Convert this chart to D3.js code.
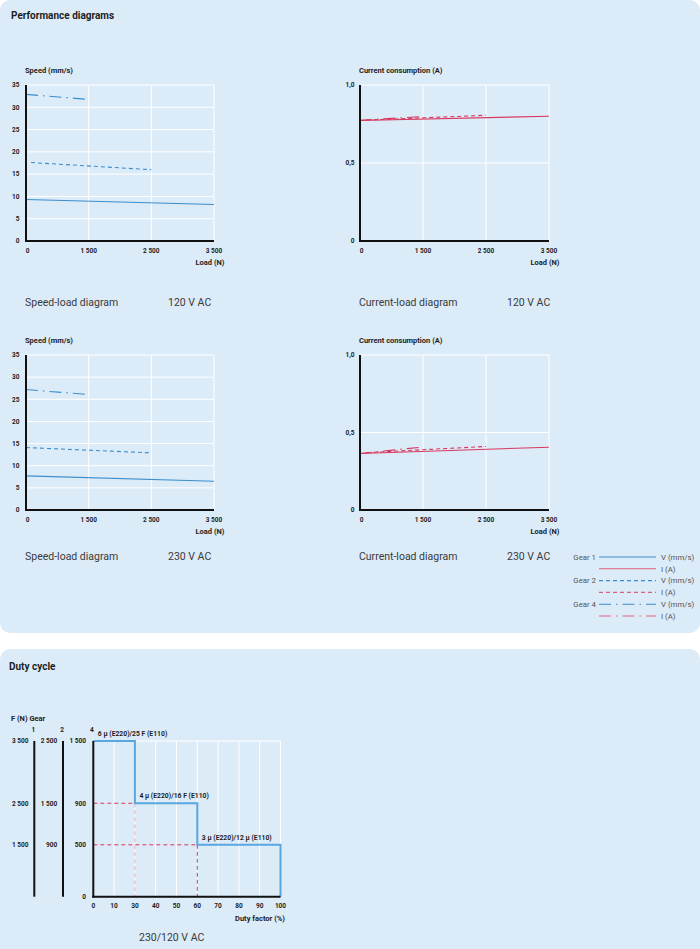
<!DOCTYPE html>
<html>
<head>
<meta charset="utf-8">
<script src="https://cdn.jsdelivr.net/npm/d3@7"></script>
<style>
	body { margin: 0; background: #fff; }
	svg text { font-family: Roboto, "Noto Sans", sans-serif; }
</style>
</head>
<body>
<svg id="chart" width="700" height="949"></svg>
<script>
// ---- data ----
var loadTicks = [0, 1500, 2500, 3500];
var speedTicks = [0, 5, 10, 15, 20, 25, 30, 35];
var currentTicks = [0, 0.5, 1.0];
var gearNames = ["Gear 1", "Gear 2", "Gear 4"];

// each series: [load, value] start and end
var speed120_gear1 = [[0, 9.3], [3500, 8.2]];
var speed120_gear2 = [[120, 17.6], [2500, 16.0]];
var speed120_gear4 = [[0, 32.9], [1450, 31.8]];

var speed230_gear1 = [[0, 7.7], [3500, 6.5]];
var speed230_gear2 = [[0, 14.1], [2500, 12.9]];
var speed230_gear4 = [[0, 27.2], [1450, 26.1]];

var current120_gear1 = [[0, 0.772], [3500, 0.80]];
var current120_gear2 = [[150, 0.775], [2500, 0.806]];
var current120_gear4 = [[0, 0.774], [1450, 0.797]];

var current230_gear1 = [[0, 0.365], [3500, 0.405]];
var current230_gear2 = [[150, 0.37], [2500, 0.41]];
var current230_gear4 = [[0, 0.365], [1450, 0.405]];

// duty cycle (the axis in the picture has no "20" tick)
var dutyFactor = [0, 30, 60, 100];
var dutyTicks = [0, 10, 30, 40, 50, 60, 70, 80, 90, 100];
var forceGear1 = [3500, 2500, 1500];
var forceGear2 = [2500, 1500, 900];
var forceGear4 = [1500, 900, 500];
var capLabels = ["6 \u00b5 (E220)/25 F (E110)", "4 \u00b5 (E220)/16 F (E110)", "3 \u00b5 (E220)/12 \u00b5 (E110)"];

var blue = "#3b8dcc";
var red = "#d8385f";
var ink = "#1e1e1e";
var panelFill = "#dcebf8";
var dashes = [null, "4,3", "12,5,1.5,5"];

var svg = d3.select("#chart");

// panels
svg.append("rect").attr("x", 0).attr("y", 0).attr("width", 700).attr("height", 633)
	.attr("rx", 10).attr("fill", panelFill);
svg.append("rect").attr("x", 0).attr("y", 649).attr("width", 700).attr("height", 320)
	.attr("rx", 10).attr("fill", panelFill);

svg.append("text").attr("x", 11).attr("y", 19).attr("font-size", 10).attr("font-weight", "bold")
	.attr("fill", ink).text("Performance diagrams");
svg.append("text").attr("x", 9).attr("y", 669.5).attr("font-size", 10).attr("font-weight", "bold")
	.attr("fill", ink).text("Duty cycle");

function fmtThousand(d){
	// 1500 -> "1 500"
	return d3.format(",")(d).replace(/,/g, " ");
}

function drawLoadChart(opt){
	var g = svg.append("g");

	var xscale = d3.scaleLinear()
		.domain(loadTicks)
		.range(loadTicks.map(function(d, i){ return opt.x0 + i * (opt.x1 - opt.x0) / 3; }));
	var yscale = d3.scaleLinear()
		.domain([0, opt.ymax])
		.range([opt.y0, opt.y1]);

	// background grid
	g.selectAll("line.y-grid")
		.data(opt.yticks.slice(1))
		.enter().append("line")
			.attr("x1", opt.x0).attr("x2", opt.x1)
			.attr("y1", function(d){ return yscale(d); })
			.attr("y2", function(d){ return yscale(d); })
			.attr("stroke", "#fff").attr("stroke-width", 1);
	g.selectAll("line.x-grid")
		.data(loadTicks.slice(1))
		.enter().append("line")
			.attr("x1", function(d){ return xscale(d); })
			.attr("x2", function(d){ return xscale(d); })
			.attr("y1", opt.y0).attr("y2", opt.y1)
			.attr("stroke", "#fff").attr("stroke-width", 1);

	// data
	var line = d3.line()
		.x(function(d){ return xscale(d[0]); })
		.y(function(d){ return yscale(d[1]); });

	g.selectAll("path.series")
		.data(opt.series)
		.enter().append("path")
			.attr("d", line)
			.attr("fill", "none")
			.attr("stroke", opt.color)
			.attr("stroke-width", 1.1)
			.attr("stroke-dasharray", function(d, i){ return dashes[i]; });

	// axes (black frame on left and bottom)
	g.append("line").attr("x1", opt.x0).attr("x2", opt.x0).attr("y1", opt.y0 + 1).attr("y2", opt.y1)
		.attr("stroke", "#111").attr("stroke-width", 2);
	g.append("line").attr("x1", opt.x0 - 1).attr("x2", opt.x1).attr("y1", opt.y0).attr("y2", opt.y0)
		.attr("stroke", "#111").attr("stroke-width", 2);

	g.selectAll("text.y-tick")
		.data(opt.yticks)
		.enter().append("text")
			.attr("x", opt.ylabelX)
			.attr("y", function(d){ return yscale(d) + 2.3; })
			.attr("text-anchor", "end")
			.attr("font-size", 6.5).attr("font-weight", "bold").attr("fill", ink)
			.text(opt.yfmt);

	g.selectAll("text.x-tick")
		.data(loadTicks)
		.enter().append("text")
			.attr("x", function(d, i){ return xscale(d) + (i === 0 ? 1.5 : 0); })
			.attr("y", opt.y0 + 11.5)
			.attr("text-anchor", "middle")
			.attr("font-size", 6.5).attr("font-weight", "bold").attr("fill", ink)
			.text(fmtThousand);

	g.append("text").attr("x", opt.x1 + 10.5).attr("y", opt.y0 + 23.5).attr("text-anchor", "end")
		.attr("font-size", 7.5).attr("font-weight", "bold").attr("fill", ink).text("Load (N)");
	g.append("text").attr("x", opt.x0 - 1).attr("y", opt.y1 - 12.5).attr("font-size", 7.5)
		.attr("font-weight", "bold").attr("fill", ink).text(opt.title);

	g.append("text").attr("x", opt.x0 - 1).attr("y", opt.captionY).attr("font-size", 10.5)
		.attr("fill", "#3a3a3a").text(opt.caption);
	g.append("text").attr("x", opt.x0 + opt.voltDx).attr("y", opt.captionY).attr("font-size", 10.5)
		.attr("fill", "#3a3a3a").text(opt.volt);
}

var speedFmt = function(d){ return d; };
var currentFmt = function(d){ return d === 0 ? "0" : d3.format(".1f")(d).replace(".", ","); };

drawLoadChart({ x0: 26, x1: 214, y0: 241, y1: 85, ymax: 35, yticks: speedTicks, yfmt: speedFmt,
	ylabelX: 19.5, color: blue, series: [speed120_gear1, speed120_gear2, speed120_gear4],
	title: "Speed (mm/s)", caption: "Speed-load diagram", volt: "120 V AC", voltDx: 142, captionY: 305.5 });
drawLoadChart({ x0: 360, x1: 549, y0: 241, y1: 85, ymax: 1.0, yticks: currentTicks, yfmt: currentFmt,
	ylabelX: 354.5, color: red, series: [current120_gear1, current120_gear2, current120_gear4],
	title: "Current consumption (A)", caption: "Current-load diagram", volt: "120 V AC", voltDx: 147, captionY: 305.5 });
drawLoadChart({ x0: 26, x1: 214, y0: 510, y1: 355, ymax: 35, yticks: speedTicks, yfmt: speedFmt,
	ylabelX: 19.5, color: blue, series: [speed230_gear1, speed230_gear2, speed230_gear4],
	title: "Speed (mm/s)", caption: "Speed-load diagram", volt: "230 V AC", voltDx: 142, captionY: 559.5 });
drawLoadChart({ x0: 360, x1: 549, y0: 510, y1: 355, ymax: 1.0, yticks: currentTicks, yfmt: currentFmt,
	ylabelX: 354.5, color: red, series: [current230_gear1, current230_gear2, current230_gear4],
	title: "Current consumption (A)", caption: "Current-load diagram", volt: "230 V AC", voltDx: 147, captionY: 559.5 });

// legend
var legend = svg.append("g");
var legendRows = [];
gearNames.forEach(function(name, i){
	legendRows.push({ gear: name, label: "V (mm/s)", color: blue, dash: dashes[i] });
	legendRows.push({ gear: "", label: "I (A)", color: "#e0617f", dash: dashes[i] });
});
var rowY = d3.scaleLinear().domain([0, 5]).range([557, 616]);
var lg = legend.selectAll("g.row").data(legendRows).enter().append("g")
	.attr("transform", function(d, i){ return "translate(0," + rowY(i) + ")"; });
lg.append("line").attr("x1", 599).attr("x2", 656).attr("y1", 0).attr("y2", 0)
	.attr("stroke", function(d){ return d.color; }).attr("stroke-width", 1.1)
	.attr("stroke-dasharray", function(d){ return d.dash; });
lg.append("text").attr("x", 596).attr("y", 2.8).attr("text-anchor", "end").attr("font-size", 7.8)
	.attr("fill", "#555").text(function(d){ return d.gear; });
lg.append("text").attr("x", 661).attr("y", 2.8).attr("font-size", 7.8)
	.attr("fill", "#555").text(function(d){ return d.label; });

// ---- duty cycle ----
var dg = svg.append("g");
var dx = d3.scaleLinear()
	.domain(dutyTicks)
	.range(dutyTicks.map(function(d, i){ return 93.3 + i * (280.5 - 93.3) / (dutyTicks.length - 1); }));
var dy = d3.scaleLinear().domain([0, 1500]).range([896.7, 741]);

dg.selectAll("line.x-grid")
	.data(dutyTicks.slice(1))
	.enter().append("line")
		.attr("x1", function(d){ return dx(d); }).attr("x2", function(d){ return dx(d); })
		.attr("y1", dy(0)).attr("y2", dy(1500))
		.attr("stroke", "#fff").attr("stroke-width", 1);
dg.append("line").attr("x1", dx(0)).attr("x2", dx(100)).attr("y1", dy(1500)).attr("y2", dy(1500))
	.attr("stroke", "#fff").attr("stroke-width", 1);

// red dashed guides
var dline = d3.line()
	.x(function(d){ return dx(d[0]); })
	.y(function(d){ return dy(d[1]); });
for (var i = 1; i < forceGear4.length; i++){
	dg.append("path")
		.attr("d", dline([[0, forceGear4[i]], [dutyFactor[i], forceGear4[i]]]))
		.attr("fill", "none").attr("stroke", red).attr("stroke-width", 1)
		.attr("stroke-dasharray", "4,3");
	dg.append("path")
		.attr("d", dline([[dutyFactor[i], forceGear4[i]], [dutyFactor[i], 0]]))
		.attr("fill", "none").attr("stroke", i === 1 ? "#eaa9bb" : red).attr("stroke-width", 1)
		.attr("stroke-dasharray", "4,3");
}

// step line
var steps = [];
forceGear4.forEach(function(f, i){
	steps.push([dutyFactor[i], f]);
	steps.push([dutyFactor[i + 1], f]);
});
steps.push([100, 0]);
dg.append("path").attr("d", dline(steps)).attr("fill", "none")
	.attr("stroke", "#5aa6de").attr("stroke-width", 2);

dg.selectAll("text.cap")
	.data(capLabels)
	.enter().append("text")
		.attr("x", function(d, i){ return dx(dutyFactor[i]) + 4.5; })
		.attr("y", function(d, i){ return dy(forceGear4[i]) - 5; })
		.attr("font-size", 6.8).attr("font-weight", "bold").attr("fill", ink)
		.text(function(d){ return d; });

// axes
dg.append("line").attr("x1", dx(0)).attr("x2", dx(0)).attr("y1", dy(0) + 1).attr("y2", dy(1500))
	.attr("stroke", "#111").attr("stroke-width", 2);
dg.append("line").attr("x1", dx(0) - 1).attr("x2", dx(100)).attr("y1", dy(0)).attr("y2", dy(0))
	.attr("stroke", "#111").attr("stroke-width", 2);

// extra gear scales
var gearCols = [
	{ values: forceGear1, labelX: 28.5, barX: 34.3, num: "1" },
	{ values: forceGear2, labelX: 57.3, barX: 63, num: "2" },
	{ values: forceGear4, labelX: 86, barX: null, num: "4" }
];
gearCols.forEach(function(c){
	if (c.barX !== null){
		dg.append("line").attr("x1", c.barX).attr("x2", c.barX).attr("y1", dy(1500)).attr("y2", dy(0))
			.attr("stroke", "#111").attr("stroke-width", 2);
	}
	var numX = c.barX !== null ? c.barX - 1 : dx(0) - 1.5;
	dg.append("text").attr("x", numX).attr("y", 732).attr("text-anchor", "middle")
		.attr("font-size", 6.5).attr("font-weight", "bold").attr("fill", ink).text(c.num);
	dg.selectAll(null)
		.data(c.values)
		.enter().append("text")
			.attr("x", c.labelX)
			.attr("y", function(d, i){ return dy(forceGear4[i]) + 2.3; })
			.attr("text-anchor", "end")
			.attr("font-size", 6.5).attr("font-weight", "bold").attr("fill", ink)
			.text(fmtThousand);
});
dg.append("text").attr("x", 86).attr("y", dy(0) + 2.3).attr("text-anchor", "end")
	.attr("font-size", 6.5).attr("font-weight", "bold").attr("fill", ink).text("0");

dg.selectAll("text.x-tick")
	.data(dutyTicks)
	.enter().append("text")
		.attr("x", function(d){ return dx(d); })
		.attr("y", 908.3)
		.attr("text-anchor", "middle")
		.attr("font-size", 6.5).attr("font-weight", "bold").attr("fill", ink)
		.text(function(d){ return d; });

dg.append("text").attr("x", 285).attr("y", 920.5).attr("text-anchor", "end").attr("font-size", 7.5)
	.attr("font-weight", "bold").attr("fill", ink).text("Duty factor (%)");
dg.append("text").attr("x", 11).attr("y", 720.5).attr("font-size", 7.5)
	.attr("font-weight", "bold").attr("fill", ink).text("F (N) Gear");
dg.append("text").attr("x", 139).attr("y", 941).attr("font-size", 10.5)
	.attr("fill", "#3a3a3a").text("230/120 V AC");
</script>
</body>
</html>
